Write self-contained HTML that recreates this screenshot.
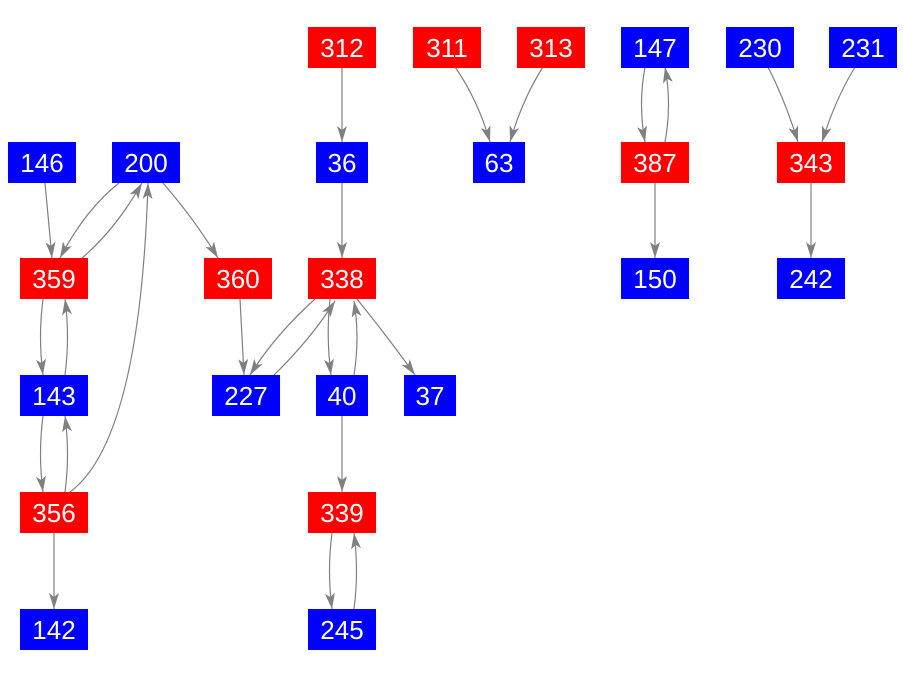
<!DOCTYPE html>
<html><head><meta charset="utf-8"><style>
body{margin:0;background:#fff;width:904px;height:675px;overflow:hidden}
text{font-family:"Liberation Sans",sans-serif;font-size:26px;fill:#fff;text-anchor:middle;dominant-baseline:central}
</style></head><body>
<svg width="904" height="675" xmlns="http://www.w3.org/2000/svg">
<defs><marker id="a" viewBox="0 0 16 10" refX="16" refY="5" markerWidth="16" markerHeight="10" markerUnits="userSpaceOnUse" orient="auto"><path d="M0,0 L16,5 L0,10 L4,5 z" fill="#808080"/></marker></defs>
<g stroke="#808080" stroke-width="1.2" fill="none" marker-end="url(#a)">
<path d="M342,67 L342,142"/>
<path d="M455,67 Q478,100 490,142"/>
<path d="M543,67 Q522,100 510,142"/>
<path d="M645,67 Q638,105 645,142"/>
<path d="M665,142 Q672,105 665,67"/>
<path d="M768,67 Q785,100 798,142"/>
<path d="M855,67 Q835,100 822,142"/>
<path d="M655,183 L655,258"/>
<path d="M811,183 L811,258"/>
<path d="M45,183 L52,258"/>
<path d="M119,183 Q85,210 60,258"/>
<path d="M82,258 Q115,230 142,183"/>
<path d="M70,492 Q140,440 148,183"/>
<path d="M163,183 Q195,220 218,258"/>
<path d="M43,299 Q38,337 43,375"/>
<path d="M65,375 Q70,337 65,299"/>
<path d="M43,416 Q38,454 43,492"/>
<path d="M65,492 Q70,454 65,416"/>
<path d="M54,533 L54,609"/>
<path d="M342,183 L342,258"/>
<path d="M240,299 L244,375"/>
<path d="M315,299 Q275,335 250,375"/>
<path d="M274,375 Q310,340 335,301"/>
<path d="M330,299 Q326,337 331,375"/>
<path d="M354,375 Q360,337 354,301"/>
<path d="M357,299 Q390,340 415,375"/>
<path d="M342,416 L342,492"/>
<path d="M332,533 Q327,571 332,609"/>
<path d="M354,609 Q359,571 354,533"/>
</g>
<g>
<rect x="308" y="27" width="68" height="41" fill="#f00"/><text x="342" y="48">312</text>
<rect x="413" y="27" width="68" height="41" fill="#f00"/><text x="447" y="48">311</text>
<rect x="517" y="27" width="68" height="41" fill="#f00"/><text x="551" y="48">313</text>
<rect x="621" y="27" width="68" height="41" fill="#00f"/><text x="655" y="48">147</text>
<rect x="726" y="27" width="68" height="41" fill="#00f"/><text x="760" y="48">230</text>
<rect x="829" y="27" width="68" height="41" fill="#00f"/><text x="863" y="48">231</text>
<rect x="8" y="142" width="68" height="41" fill="#00f"/><text x="42" y="163">146</text>
<rect x="112" y="142" width="68" height="41" fill="#00f"/><text x="146" y="163">200</text>
<rect x="316" y="142" width="52" height="41" fill="#00f"/><text x="342" y="163">36</text>
<rect x="473" y="142" width="52" height="41" fill="#00f"/><text x="499" y="163">63</text>
<rect x="621" y="142" width="68" height="41" fill="#f00"/><text x="655" y="163">387</text>
<rect x="777" y="142" width="68" height="41" fill="#f00"/><text x="811" y="163">343</text>
<rect x="20" y="258" width="68" height="41" fill="#f00"/><text x="54" y="279">359</text>
<rect x="204" y="258" width="68" height="41" fill="#f00"/><text x="238" y="279">360</text>
<rect x="308" y="258" width="68" height="41" fill="#f00"/><text x="342" y="279">338</text>
<rect x="621" y="258" width="68" height="41" fill="#00f"/><text x="655" y="279">150</text>
<rect x="777" y="258" width="68" height="41" fill="#00f"/><text x="811" y="279">242</text>
<rect x="20" y="375" width="68" height="41" fill="#00f"/><text x="54" y="396">143</text>
<rect x="212" y="375" width="68" height="41" fill="#00f"/><text x="246" y="396">227</text>
<rect x="316" y="375" width="52" height="41" fill="#00f"/><text x="342" y="396">40</text>
<rect x="404" y="375" width="52" height="41" fill="#00f"/><text x="430" y="396">37</text>
<rect x="20" y="492" width="68" height="41" fill="#f00"/><text x="54" y="513">356</text>
<rect x="308" y="492" width="68" height="41" fill="#f00"/><text x="342" y="513">339</text>
<rect x="20" y="609" width="68" height="41" fill="#00f"/><text x="54" y="630">142</text>
<rect x="308" y="609" width="68" height="41" fill="#00f"/><text x="342" y="630">245</text>
</g>
</svg>
</body></html>
